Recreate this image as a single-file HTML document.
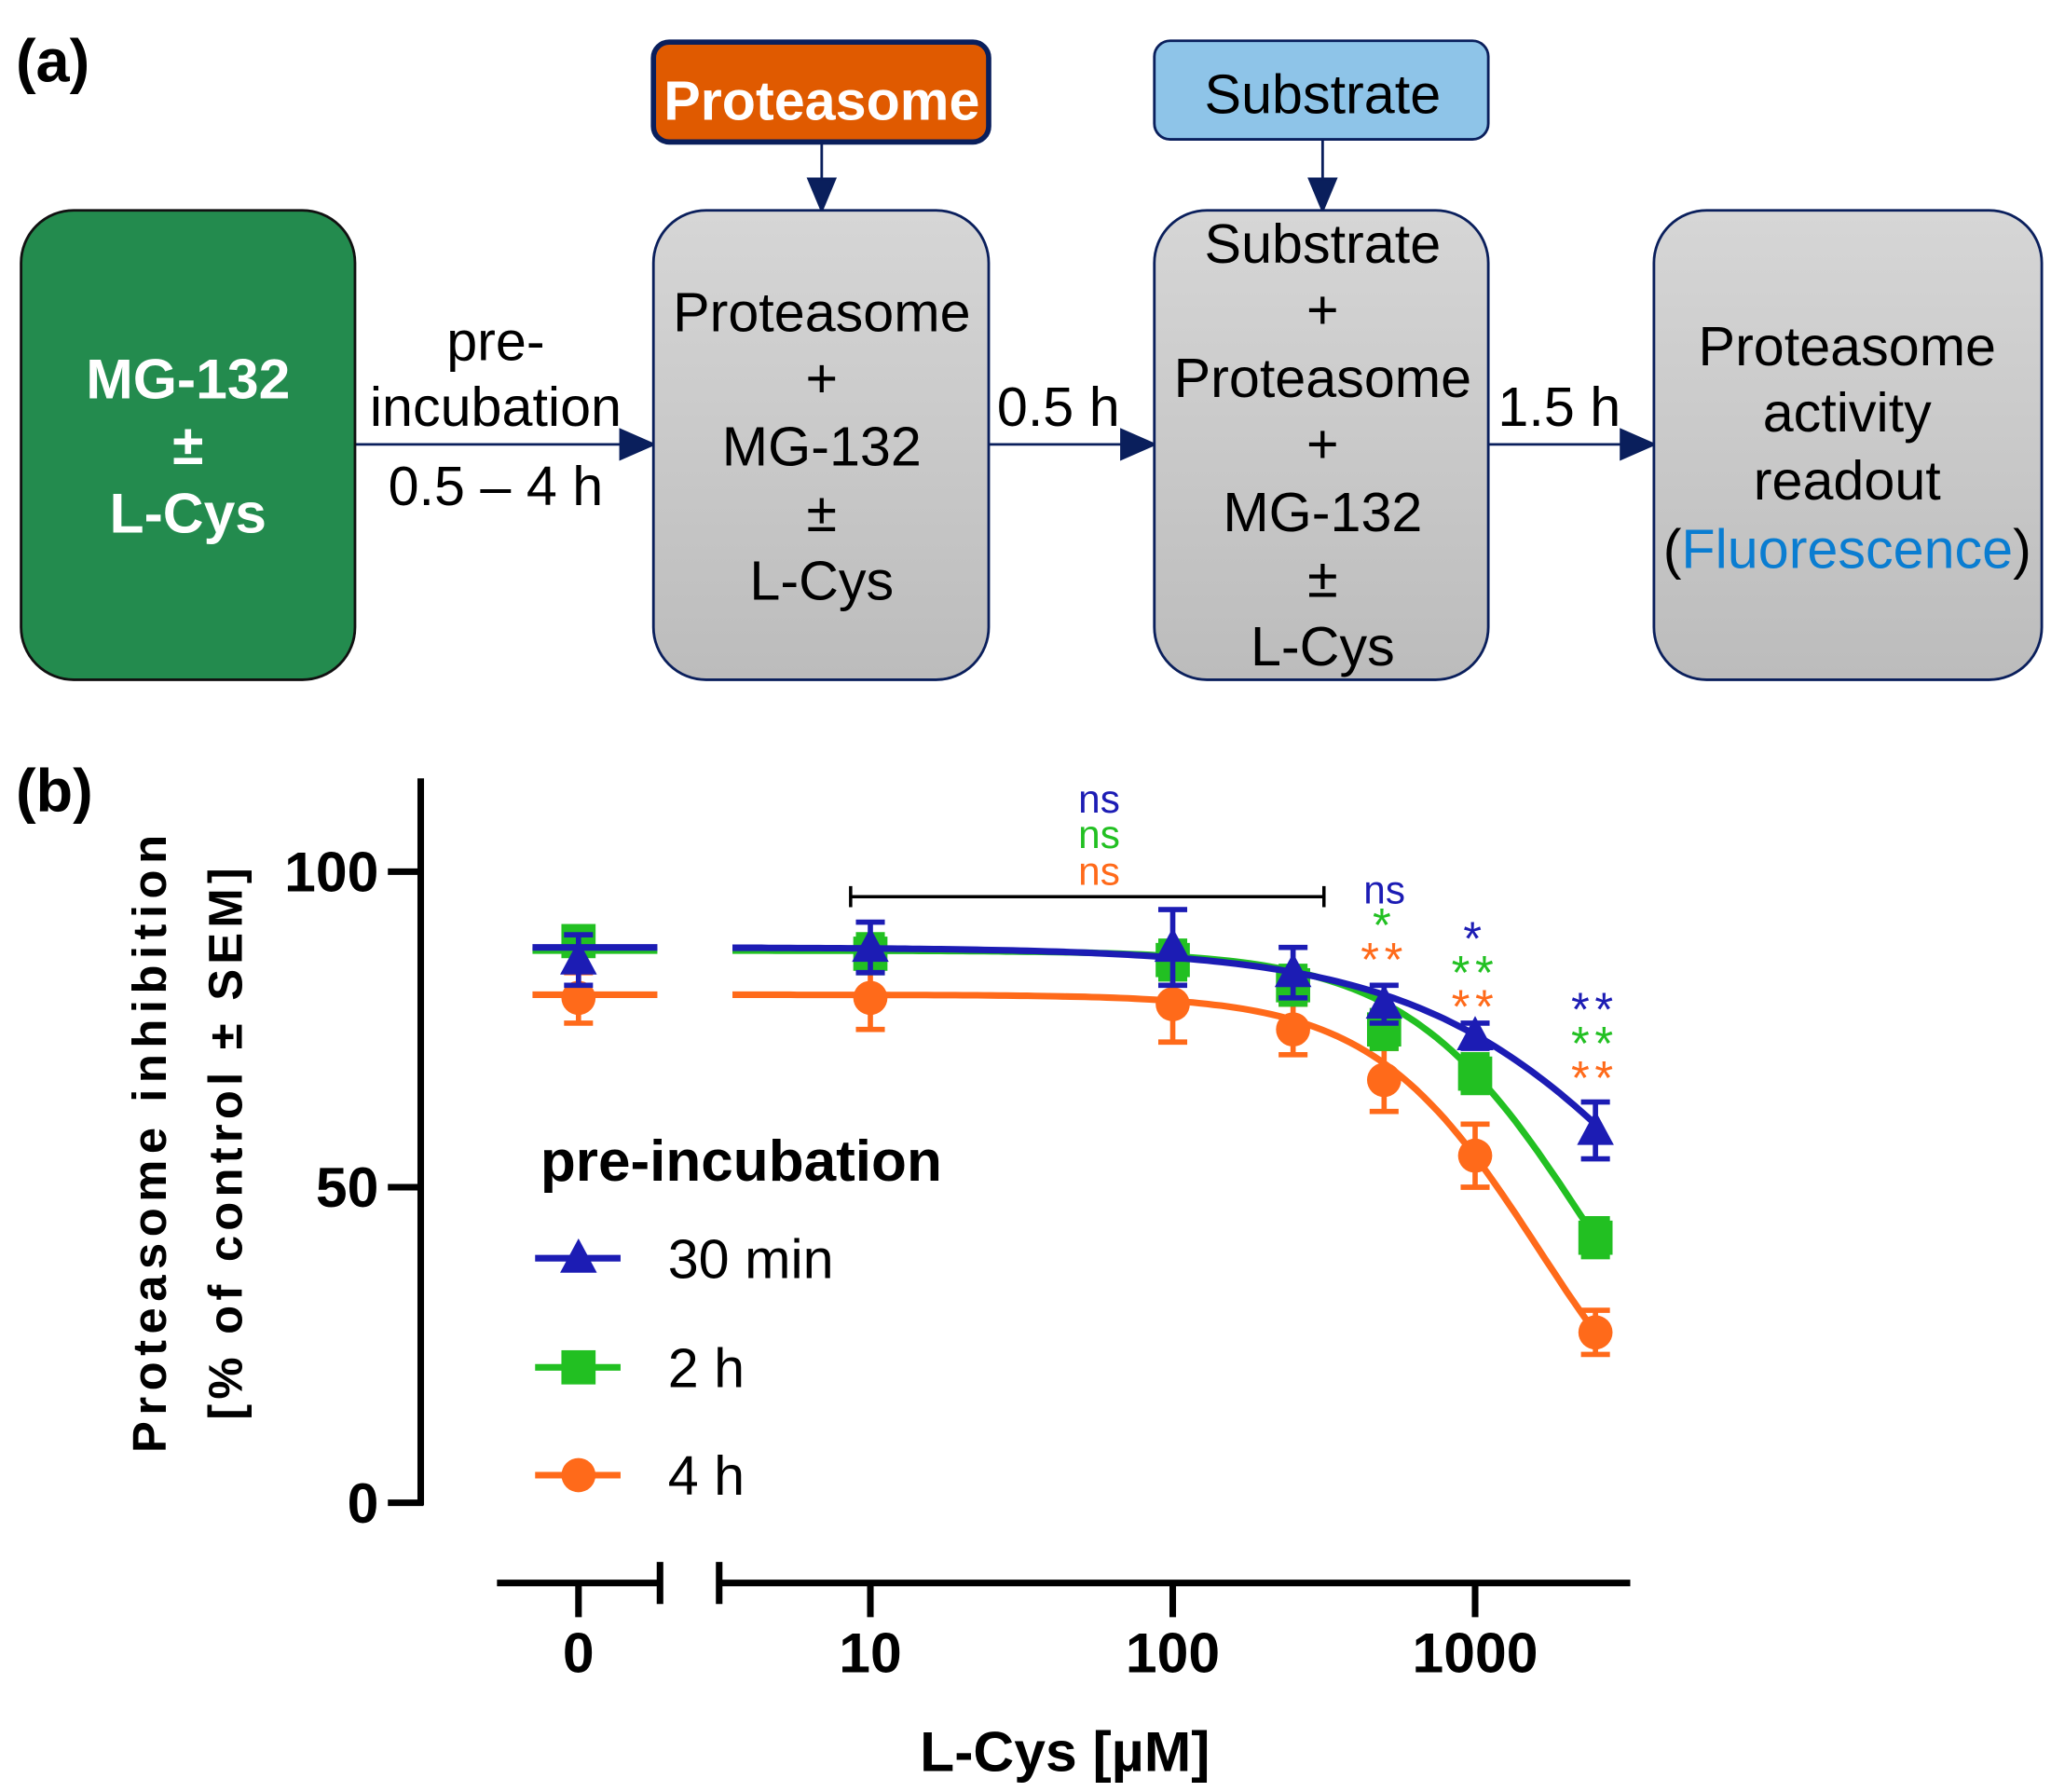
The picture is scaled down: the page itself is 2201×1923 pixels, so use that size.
<!DOCTYPE html>
<html><head><meta charset="utf-8"><style>
html,body{margin:0;padding:0;background:#fff;}
svg{display:block;font-family:"Liberation Sans",Arial,sans-serif;}
</style></head><body>
<svg id="fig" width="2201" height="1923" viewBox="0 0 1560 1363" xmlns="http://www.w3.org/2000/svg">
<defs>
<linearGradient id="gg" x1="0" y1="0" x2="0" y2="1"><stop offset="0" stop-color="#d6d6d6"/><stop offset="1" stop-color="#bcbcbc"/></linearGradient>
</defs>
<g>
<text x="12" y="62" font-size="46" font-weight="bold">(a)</text>
<rect x="497" y="32" width="255" height="76" rx="12" fill="#e05a00" stroke="#0a1f5c" stroke-width="4"/>
<text x="625" y="91" font-size="42" font-weight="bold" fill="#fff" text-anchor="middle">Proteasome</text>
<rect x="878" y="31" width="254" height="75" rx="12" fill="#8ec4e8" stroke="#0a1f5c" stroke-width="2"/>
<text x="1006" y="86" font-size="42" text-anchor="middle">Substrate</text>
<g stroke="#0a1f5c" stroke-width="2" fill="#0a1f5c">
<line x1="625" y1="108" x2="625" y2="140"/><polygon points="615,136 635,136 625,160"/>
<line x1="1006" y1="106" x2="1006" y2="140"/><polygon points="996,136 1016,136 1006,160"/>
<line x1="270" y1="338" x2="476" y2="338"/><polygon points="472,327 472,349 497,338"/>
<line x1="752" y1="338" x2="857" y2="338"/><polygon points="853,327 853,349 878,338"/>
<line x1="1132" y1="338" x2="1237" y2="338"/><polygon points="1233,327 1233,349 1258,338"/>
</g>
<rect x="16" y="160" width="254" height="357" rx="40" fill="#238b4e" stroke="#111" stroke-width="2"/>
<g font-size="43" font-weight="bold" fill="#fff" text-anchor="middle">
<text x="143" y="303">MG-132</text><text x="143" y="353">±</text><text x="143" y="405">L-Cys</text></g>
<rect x="497" y="160" width="255" height="357" rx="40" fill="url(#gg)" stroke="#0a1f5c" stroke-width="2"/>
<rect x="878" y="160" width="254" height="357" rx="40" fill="url(#gg)" stroke="#0a1f5c" stroke-width="2"/>
<rect x="1258" y="160" width="295" height="357" rx="40" fill="url(#gg)" stroke="#0a1f5c" stroke-width="2"/>
<g font-size="42" text-anchor="middle">
<text x="625" y="252">Proteasome</text><text x="625" y="302">+</text><text x="625" y="354">MG-132</text><text x="625" y="404">±</text><text x="625" y="456">L-Cys</text>
<text x="1006" y="200">Substrate</text><text x="1006" y="250">+</text><text x="1006" y="302">Proteasome</text><text x="1006" y="352">+</text><text x="1006" y="404">MG-132</text><text x="1006" y="454">±</text><text x="1006" y="506">L-Cys</text>
<text x="1405" y="278">Proteasome</text><text x="1405" y="328">activity</text><text x="1405" y="380">readout</text>
<text x="1405" y="432">(<tspan fill="#0a7dd1">Fluorescence</tspan>)</text>
<text x="377" y="274">pre-</text><text x="377" y="324">incubation</text><text x="377" y="384">0.5 – 4 h</text>
<text x="805" y="324">0.5 h</text><text x="1186" y="324">1.5 h</text>
</g>
</g>
<g id="pb">
<text x="12" y="617" font-size="46" font-weight="bold">(b)</text>
</g>
</svg>
<script>
const concs=[0,10,100,250,500,1000,2500];
const v30=[86,88,88,84,79,74,59];
const e30=[4,4,6,4,3,2,4.5];
const v2h=[89,87,86,82,75,68,42];
const e2h=[2,3,3,3,3,3,3];
const v4h=[80,80,79,75,67,55,27];
const e4h=[4,5,6,4,5,5,3.5];
const fitTop=[88,87.5,80.5];
const fitIC=[5350,2365,1620];
const fitHill=[1.0,1.45,1.58];
const yTicks=[0,50,100];
const xTickVals=[0,10,100,1000];
const xTickLabels=["0","10","100","1000"];
const NS="http://www.w3.org/2000/svg";
const pb=document.getElementById('pb');
function y(v){return 1143-v*4.8;}
function x(c){return c===0?440:662+(Math.log10(c)-1)*230;}
function mk(tag,at,parent){const e=document.createElementNS(NS,tag);for(const k in at)e.setAttribute(k,at[k]);(parent||pb).appendChild(e);return e;}
let g=mk('g',{});


mk('line',{x1:320,y1:592,x2:320,y2:1145,stroke:'#000','stroke-width':5},g);
yTicks.forEach(v=>{mk('line',{x1:295,y1:y(v),x2:322,y2:y(v),stroke:'#000','stroke-width':5},g);
 const t=mk('text',{x:288,y:y(v)+15,'font-size':43,'font-weight':'bold','text-anchor':'end'},g);t.textContent=v;
 
 });
let gx=mk('g',{});


mk('line',{x1:378,y1:1204,x2:502,y2:1204,stroke:'#000','stroke-width':5},gx);
mk('line',{x1:502,y1:1188,x2:502,y2:1220,stroke:'#000','stroke-width':5},gx);
mk('line',{x1:547,y1:1204,x2:1240,y2:1204,stroke:'#000','stroke-width':5},gx);
mk('line',{x1:547,y1:1188,x2:547,y2:1220,stroke:'#000','stroke-width':5},gx);
xTickVals.forEach((c,i)=>{mk('line',{x1:x(c),y1:1204,x2:x(c),y2:1230,stroke:'#000','stroke-width':5},gx);
 const t=mk('text',{x:x(c),y:1272,'font-size':43,'font-weight':'bold','text-anchor':'middle'},gx);t.textContent=xTickLabels[i];
 
 });
let tt=mk('text',{x:810,y:1347,'font-size':43,'font-weight':'bold','text-anchor':'middle'});tt.textContent='L-Cys [µM]';


let yt=mk('text',{transform:'translate(126,870) rotate(-90)','font-size':36,'font-weight':'bold','text-anchor':'middle',textLength:470,lengthAdjust:'spacing'});yt.textContent='Proteasome inhibition';


let yt2=mk('text',{transform:'translate(184,870) rotate(-90)','font-size':36,'font-weight':'bold','text-anchor':'middle',textLength:420,lengthAdjust:'spacing'});yt2.textContent='[% of control ± SEM]';


const series=[{v:v30,e:e30,c:'#1c1cb4',m:'tri',n:'30 min'},{v:v2h,e:e2h,c:'#22c022',m:'sq',n:'2 h'},{v:v4h,e:e4h,c:'#ff6a1a',m:'cir',n:'4 h'}];
function marker(type,cx,cy,col,parent){
 if(type==='tri')return mk('polygon',{points:`${cx},${cy-15} ${cx-14},${cy+11} ${cx+14},${cy+11}`,fill:col},parent);
 if(type==='sq')return mk('rect',{x:cx-13,y:cy-13,width:26,height:26,fill:col},parent);
 return mk('circle',{cx:cx,cy:cy,r:13,fill:col},parent);}
[2,1,0].forEach(si=>{const s=series[si];
 const sg=mk('g',{});
 
 
 const top=fitTop[si],ic=fitIC[si],h=fitHill[si];
 const f=c=>top/(1+Math.pow(c/ic,h));
 let d='';for(let i=0;i<=120;i++){const lc=Math.log10(3.5)+i*(Math.log10(2500)-Math.log10(3.5))/120;const c=Math.pow(10,lc);d+=(i?'L':'M')+x(c).toFixed(1)+','+y(f(c)).toFixed(1);}
 const p=mk('path',{d:d,fill:'none',stroke:s.c,'stroke-width':5},sg);
 
 
 const z=mk('line',{x1:405,x2:500,y1:y(top),y2:y(top),stroke:s.c,'stroke-width':5},sg);
 
 
 concs.forEach((c,i)=>{const cx=x(c),v=s.v[i],e=s.e[i];
  const eb=mk('path',{d:`M${cx},${y(v+e)}L${cx},${y(v-e)}M${cx-11},${y(v+e)}L${cx+11},${y(v+e)}M${cx-11},${y(v-e)}L${cx+11},${y(v-e)}`,stroke:s.c,'stroke-width':4,fill:'none'},sg);
  
  
  const m=marker(s.m,cx,y(v),s.c,sg);
  
  });
});
const lg=mk('g',{});


let lt=mk('text',{x:411,y:898,'font-size':44,'font-weight':'bold'},lg);lt.textContent='pre-incubation';
[957,1040,1122].forEach((ly,i)=>{const s=series[i];
 const eg=mk('g',{},lg);
 
 
 mk('line',{x1:407,x2:472,y1:ly,y2:ly,stroke:s.c,'stroke-width':5},eg);
 marker(s.m,440,ly,s.c,eg);
 const t=mk('text',{x:508,y:ly+15,'font-size':42},eg);t.textContent=s.n;});
const ag=mk('g',{});


mk('path',{d:'M647,682L1007,682M647,674L647,690M1007,674L1007,690',stroke:'#000','stroke-width':2.5,fill:'none'},ag);
const ann=[[836,618,'ns',0],[836,645,'ns',1],[836,673,'ns',2],[1053,687,'ns',0],[1053,716,'*',1],[1053,742,'**',2],[1122,726,'*',0],[1122,752,'**',1],[1122,778,'**',2],[1213,780,'**',0],[1213,806,'**',1],[1213,832,'**',2]];
ann.forEach(a=>{const t=mk('text',{x:a[0],y:a[1],'font-size':a[2]==='ns'?30:36,fill:series[a[3]].c,'text-anchor':'middle','letter-spacing':a[2]==='ns'?0:4},ag);t.textContent=a[2];});
</script>
</body></html>
